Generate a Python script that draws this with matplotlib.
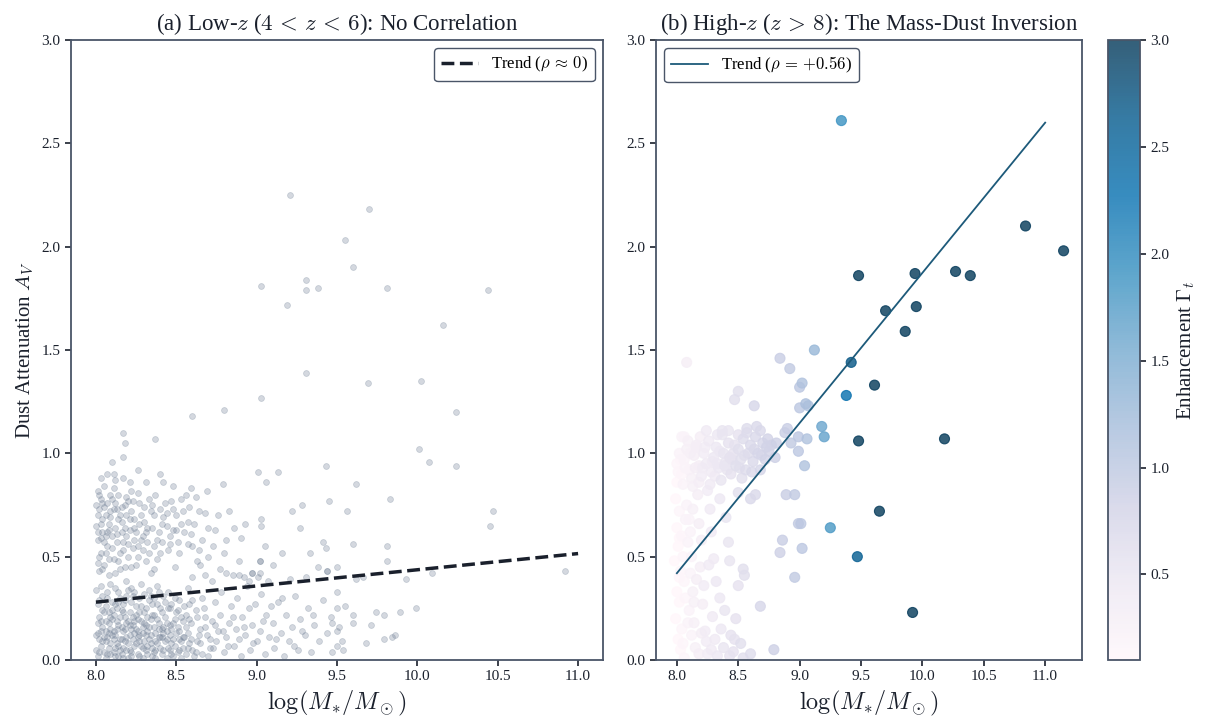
import matplotlib
matplotlib.use("Agg")
import matplotlib.pyplot as plt
import numpy as np

plt.rcParams['font.family'] = ['Liberation Serif', 'DejaVu Serif']
plt.rcParams['mathtext.fontset'] = 'cm'

# ---- panel (a): low-z sample, (log M*, A_V) ----
lowz_core = [
    (8.01, 0.02), (8.03, 0.07), (8.00, 0.12), (8.04, 0.16), (8.02, 0.21), (8.01, 0.27), (8.04, 0.31),
    (8.03, 0.36), (8.00, 0.05), (8.02, 0.10), (8.04, 0.24), (8.01, 0.18), (8.03, 0.14), (8.05, 0.04),
    (8.06, 0.01), (8.08, 0.06), (8.07, 0.11), (8.09, 0.15), (8.06, 0.19), (8.08, 0.23), (8.10, 0.28),
    (8.07, 0.33), (8.09, 0.03), (8.06, 0.09), (8.08, 0.13), (8.10, 0.20), (8.06, 0.26), (8.09, 0.37),
    (8.11, 0.04), (8.13, 0.08), (8.12, 0.12), (8.14, 0.17), (8.11, 0.22), (8.13, 0.25), (8.15, 0.30),
    (8.12, 0.35), (8.14, 0.02), (8.11, 0.14), (8.15, 0.10), (8.13, 0.19), (8.12, 0.06), (8.14, 0.28),
    (8.16, 0.03), (8.18, 0.09), (8.17, 0.14), (8.19, 0.18), (8.16, 0.24), (8.18, 0.29), (8.20, 0.34),
    (8.17, 0.06), (8.19, 0.11), (8.16, 0.16), (8.18, 0.21), (8.20, 0.01), (8.17, 0.27), (8.19, 0.38),
    (8.21, 0.05), (8.23, 0.10), (8.22, 0.15), (8.24, 0.19), (8.21, 0.23), (8.23, 0.31), (8.25, 0.08),
    (8.22, 0.02), (8.24, 0.13), (8.21, 0.17), (8.25, 0.26), (8.22, 0.35), (8.23, 0.21),
    (8.26, 0.03), (8.28, 0.07), (8.27, 0.12), (8.29, 0.16), (8.26, 0.20), (8.28, 0.26), (8.30, 0.32),
    (8.27, 0.09), (8.29, 0.01), (8.26, 0.14), (8.30, 0.18), (8.28, 0.37), (8.27, 0.23),
    (8.31, 0.05), (8.33, 0.10), (8.32, 0.14), (8.34, 0.20), (8.31, 0.25), (8.33, 0.29), (8.35, 0.02),
    (8.32, 0.07), (8.34, 0.12), (8.31, 0.17), (8.35, 0.22), (8.33, 0.34),
    (8.36, 0.04), (8.38, 0.08), (8.37, 0.13), (8.39, 0.18), (8.36, 0.22), (8.38, 0.27), (8.40, 0.11),
    (8.37, 0.01), (8.39, 0.15), (8.36, 0.30), (8.40, 0.06), (8.38, 0.36),
    (8.41, 0.03), (8.43, 0.09), (8.42, 0.13), (8.44, 0.18), (8.41, 0.23), (8.43, 0.28), (8.45, 0.06),
    (8.42, 0.16), (8.44, 0.01), (8.41, 0.11), (8.45, 0.33),
    (8.46, 0.05), (8.48, 0.10), (8.47, 0.15), (8.49, 0.20), (8.46, 0.25), (8.48, 0.02), (8.50, 0.13),
    (8.47, 0.08), (8.49, 0.30), (8.46, 0.17),
    (8.51, 0.04), (8.53, 0.09), (8.52, 0.14), (8.54, 0.19), (8.51, 0.24), (8.53, 0.01), (8.55, 0.11),
    (8.52, 0.29), (8.54, 0.06),
    (8.56, 0.03), (8.58, 0.08), (8.57, 0.13), (8.59, 0.18), (8.56, 0.22), (8.58, 0.27), (8.60, 0.05),
    (8.57, 0.35),
]
lowz_core2 = [
    (8.02, 0.04), (8.04, 0.09), (8.01, 0.13), (8.03, 0.19), (8.05, 0.23), (8.02, 0.29), (8.00, 0.34),
    (8.05, 0.11), (8.07, 0.03), (8.09, 0.08), (8.06, 0.14), (8.08, 0.18), (8.10, 0.24), (8.07, 0.30),
    (8.09, 0.21), (8.10, 0.12), (8.12, 0.02), (8.14, 0.07), (8.11, 0.10), (8.13, 0.15), (8.15, 0.21),
    (8.12, 0.27), (8.14, 0.33), (8.15, 0.05), (8.17, 0.01), (8.19, 0.05), (8.16, 0.10), (8.18, 0.15),
    (8.20, 0.19), (8.17, 0.23), (8.19, 0.31), (8.20, 0.08), (8.22, 0.04), (8.24, 0.07), (8.21, 0.12),
    (8.23, 0.17), (8.25, 0.22), (8.22, 0.28), (8.24, 0.33), (8.25, 0.15), (8.27, 0.02), (8.29, 0.06),
    (8.26, 0.11), (8.28, 0.19), (8.30, 0.23), (8.27, 0.30), (8.29, 0.13), (8.30, 0.09), (8.32, 0.03),
    (8.34, 0.08), (8.31, 0.12), (8.33, 0.16), (8.35, 0.27), (8.32, 0.21), (8.34, 0.31), (8.35, 0.06),
    (8.37, 0.05), (8.39, 0.11), (8.36, 0.16), (8.38, 0.20), (8.40, 0.25), (8.37, 0.09), (8.39, 0.33),
    (8.42, 0.05), (8.44, 0.10), (8.41, 0.15), (8.43, 0.21), (8.45, 0.25), (8.42, 0.31), (8.44, 0.14),
    (8.47, 0.03), (8.49, 0.07), (8.46, 0.12), (8.48, 0.18), (8.50, 0.23), (8.47, 0.27), (8.52, 0.05),
    (8.54, 0.11), (8.51, 0.16), (8.53, 0.21), (8.55, 0.26), (8.52, 0.10), (8.57, 0.06), (8.59, 0.10),
    (8.56, 0.16), (8.58, 0.20), (8.60, 0.29), (8.61, 0.02), (8.63, 0.09), (8.65, 0.15), (8.62, 0.24),
    (8.66, 0.03), (8.69, 0.12), (8.68, 0.21), (8.71, 0.06), (8.74, 0.17), (8.75, 0.09), (8.79, 0.14),
    (8.82, 0.07), (8.85, 0.21), (8.89, 0.10), (8.92, 0.16), (8.95, 0.25), (8.98, 0.08), (9.04, 0.19),
    (9.09, 0.26), (9.12, 0.10), (9.16, 0.30), (9.23, 0.07), (9.28, 0.14), (9.35, 0.22),
]
lowz_tail = [
    (8.62, 0.04), (8.64, 0.12), (8.63, 0.21), (8.66, 0.30), (8.65, 0.08), (8.68, 0.16), (8.67, 0.25),
    (8.70, 0.02), (8.71, 0.10), (8.72, 0.19), (8.74, 0.28), (8.73, 0.06), (8.76, 0.14), (8.77, 0.22),
    (8.78, 0.33), (8.80, 0.04), (8.81, 0.11), (8.83, 0.18), (8.84, 0.26), (8.86, 0.07), (8.87, 0.15),
    (8.88, 0.30), (8.90, 0.02), (8.91, 0.21), (8.93, 0.12), (8.94, 0.36), (8.96, 0.05), (8.97, 0.17),
    (8.99, 0.27), (9.00, 0.09), (9.02, 0.14), (9.03, 0.32), (9.05, 0.03), (9.06, 0.22), (9.08, 0.11),
    (9.10, 0.18), (9.11, 0.06), (9.13, 0.28), (9.15, 0.13), (9.17, 0.02), (9.18, 0.22), (9.20, 0.09),
    (9.22, 0.16), (9.24, 0.31), (9.26, 0.05), (9.27, 0.20), (9.30, 0.12), (9.32, 0.25), (9.34, 0.04),
    (9.36, 0.17), (9.39, 0.09), (9.41, 0.29), (9.44, 0.13), (9.46, 0.21), (9.02, 0.42), (9.07, 0.38),
    (8.92, 0.40), (9.21, 0.39), (9.31, 0.40), (9.01, 0.40), (8.97, 0.42), (9.44, 0.43), (9.02, 0.48),
]
lowz_upper = [
    (8.01, 0.82), (8.03, 0.78), (8.05, 0.84), (8.02, 0.73), (8.06, 0.70), (8.09, 0.80), (8.12, 0.76),
    (8.08, 0.66), (8.04, 0.62), (8.01, 0.58), (8.03, 0.52), (8.07, 0.55), (8.10, 0.60), (8.14, 0.68),
    (8.16, 0.74), (8.19, 0.79), (8.22, 0.72), (8.18, 0.64), (8.13, 0.57), (8.11, 0.49), (8.05, 0.46),
    (8.02, 0.43), (8.08, 0.41), (8.15, 0.44), (8.20, 0.50), (8.24, 0.58), (8.27, 0.66), (8.30, 0.74),
    (8.26, 0.81), (8.33, 0.78), (8.36, 0.70), (8.31, 0.62), (8.29, 0.53), (8.25, 0.46), (8.34, 0.42),
    (8.38, 0.49), (8.41, 0.57), (8.44, 0.65), (8.40, 0.73), (8.47, 0.77), (8.50, 0.70), (8.46, 0.60),
    (8.52, 0.52), (8.49, 0.45), (8.55, 0.62), (8.58, 0.74), (8.61, 0.66), (8.57, 0.56), (8.63, 0.48),
    (8.66, 0.58), (8.04, 0.68), (8.06, 0.60), (8.00, 0.65), (8.02, 0.50), (8.09, 0.72), (8.11, 0.83),
    (8.17, 0.57), (8.21, 0.63), (8.23, 0.77), (8.28, 0.70), (8.32, 0.57), (8.35, 0.64), (8.37, 0.80),
    (8.42, 0.69), (8.45, 0.53), (8.53, 0.66), (8.07, 0.76), (8.12, 0.64), (8.15, 0.52), (8.18, 0.45),
    (8.00, 0.75), (8.03, 0.59), (8.10, 0.54), (8.14, 0.80), (8.19, 0.70), (8.24, 0.68), (8.26, 0.55),
    (8.31, 0.48), (8.36, 0.55), (8.39, 0.62), (8.43, 0.76), (8.48, 0.63), (8.54, 0.72), (8.59, 0.61),
    (8.62, 0.79), (8.68, 0.71), (8.70, 0.64), (8.73, 0.55), (8.01, 0.70), (8.05, 0.74), (8.08, 0.63),
    (8.13, 0.73), (8.16, 0.62), (8.20, 0.56), (8.22, 0.82), (8.29, 0.60), (8.34, 0.72), (8.40, 0.52),
    (8.51, 0.57), (8.56, 0.80),
    (8.02, 0.80), (8.04, 0.76), (8.01, 0.62), (8.03, 0.66), (8.06, 0.52), (8.05, 0.57), (8.08, 0.49),
    (8.09, 0.69), (8.11, 0.73), (8.13, 0.61), (8.10, 0.78), (8.15, 0.70), (8.14, 0.48), (8.17, 0.53),
    (8.19, 0.60), (8.18, 0.75), (8.21, 0.68), (8.23, 0.54), (8.22, 0.45), (8.25, 0.62), (8.27, 0.76),
    (8.26, 0.50), (8.30, 0.67), (8.28, 0.58), (8.32, 0.64), (8.33, 0.52), (8.35, 0.75), (8.38, 0.58),
    (8.41, 0.66), (8.44, 0.71), (8.46, 0.56), (8.50, 0.63), (8.53, 0.78), (8.57, 0.67), (8.60, 0.55),
    (8.64, 0.72), (8.01, 0.47), (8.04, 0.44), (8.07, 0.62), (8.12, 0.42), (8.16, 0.67), (8.20, 0.77),
    (8.24, 0.64), (8.36, 0.44), (8.48, 0.73),
    (8.17, 1.10), (8.18, 1.05), (8.37, 1.07), (8.10, 0.96), (8.17, 0.98), (8.07, 0.90), (8.11, 0.90),
    (8.12, 0.87), (8.17, 0.88), (8.21, 0.86), (8.40, 0.90), (8.42, 0.86), (8.79, 0.85), (8.59, 0.83),
    (8.69, 0.82), (8.60, 1.18), (8.80, 1.21), (8.03, 0.88), (8.26, 0.92), (8.31, 0.86), (8.48, 0.84),
    (8.83, 0.72), (8.90, 0.59), (8.80, 0.52), (8.81, 0.58), (8.89, 0.48), (8.81, 0.42), (8.85, 0.41),
    (8.89, 0.41), (8.65, 0.46), (8.70, 0.50), (8.74, 0.63), (8.77, 0.44), (8.72, 0.38), (8.68, 0.41),
    (8.93, 0.66), (8.86, 0.64), (8.76, 0.70), (8.64, 0.53), (8.95, 0.38), (8.60, 0.40),
]
lowz_sparse = [
    (9.21, 2.25), (9.70, 2.18), (9.55, 2.03), (9.60, 1.90), (9.31, 1.84), (9.03, 1.81), (9.31, 1.79),
    (9.38, 1.80), (9.81, 1.80), (10.44, 1.79), (9.19, 1.72), (10.16, 1.62), (9.31, 1.39), (9.69, 1.34),
    (10.02, 1.35), (9.03, 1.27), (10.24, 1.20), (10.01, 1.02), (10.07, 0.96), (10.24, 0.94),
    (9.62, 0.85), (9.83, 0.78), (9.56, 0.72), (10.47, 0.72), (10.45, 0.65), (9.60, 0.56), (9.81, 0.55),
    (9.81, 0.48), (9.50, 0.45), (10.09, 0.42), (10.92, 0.43), (9.62, 0.39), (9.93, 0.39), (9.66, 0.40),
    (9.99, 0.25), (9.89, 0.23), (9.74, 0.23), (9.79, 0.22), (9.60, 0.22), (9.55, 0.26), (9.50, 0.25),
    (9.50, 0.33), (9.71, 0.17), (9.60, 0.18), (9.51, 0.16), (9.50, 0.14), (9.86, 0.12), (9.84, 0.11),
    (9.79, 0.10), (9.68, 0.08), (9.53, 0.09), (9.54, 0.05), (9.50, 0.07), (9.47, 0.04), (9.47, 0.18),
    (9.43, 0.94), (9.45, 0.77), (9.28, 0.75), (9.22, 0.72), (9.27, 0.64), (9.01, 0.91), (9.13, 0.91),
    (9.06, 0.86), (9.03, 0.68), (9.03, 0.65), (9.33, 0.52), (9.41, 0.57), (9.43, 0.54), (9.16, 0.52),
    (9.05, 0.55), (9.10, 0.46), (9.38, 0.45), (9.02, 0.48), (8.97, 0.42), (9.44, 0.43),
]
lowz_trend_x = [8.0, 11.0]
lowz_trend_y = [0.28, 0.515]

# ---- panel (b): high-z sample, (log M*, A_V, Gamma_t) ----
hiz_massive = [
    (10.84, 2.10, 3.0), (11.15, 1.98, 3.0), (9.48, 1.86, 3.0), (9.94, 1.87, 3.0), (10.27, 1.88, 3.0),
    (10.39, 1.86, 3.0), (9.70, 1.69, 3.0), (9.95, 1.71, 3.0), (9.86, 1.59, 3.0), (9.61, 1.33, 3.0),
    (9.48, 1.06, 3.0), (10.18, 1.07, 3.0), (9.65, 0.72, 3.0), (9.92, 0.23, 3.0),
    (9.42, 1.44, 2.7), (9.47, 0.50, 2.6), (9.38, 1.28, 2.3), (9.34, 2.61, 1.9), (9.25, 0.64, 1.8),
    (9.18, 1.13, 1.6), (9.20, 1.08, 1.65), (9.12, 1.50, 1.3),
]
hiz_mid = [
    (9.04, 0.94, 1.1), (9.06, 1.07, 1.1), (9.05, 1.24, 1.15), (9.02, 1.34, 1.1), (9.01, 0.66, 1.0),
    (9.02, 0.54, 1.0), (8.84, 1.46, 0.9), (8.92, 1.41, 0.95), (9.00, 1.32, 1.0), (8.50, 1.30, 0.6),
    (8.47, 1.26, 0.6), (9.07, 1.23, 1.1), (9.00, 1.22, 1.0), (8.63, 1.23, 0.75), (8.90, 1.12, 0.9),
    (8.88, 1.10, 0.9), (8.93, 1.05, 0.95), (8.99, 1.08, 1.0), (8.99, 1.01, 1.0), (8.81, 1.05, 0.85),
    (8.77, 1.04, 0.8), (8.73, 1.03, 0.8), (8.80, 0.98, 0.85), (8.89, 0.80, 0.9), (8.96, 0.80, 0.95),
    (8.60, 0.78, 0.7), (8.64, 0.80, 0.7), (8.50, 0.81, 0.6), (8.99, 0.66, 0.95), (8.86, 0.58, 0.9),
    (8.84, 0.52, 0.85), (8.96, 0.40, 0.95), (8.68, 0.26, 0.75), (8.79, 0.05, 0.85), (8.60, 0.03, 0.65),
    (8.43, 0.48, 0.5), (8.54, 0.44, 0.6), (8.55, 0.41, 0.6), (8.50, 0.36, 0.55), (8.08, 1.44, 0.3),
    (8.04, 1.08, 0.2), (8.24, 1.11, 0.4), (8.33, 1.09, 0.45), (8.37, 1.11, 0.5), (8.42, 1.11, 0.5),
    (8.50, 1.09, 0.55), (8.57, 1.10, 0.65), (8.65, 1.13, 0.7), (8.68, 1.11, 0.7), (8.16, 1.03, 0.3),
]
hiz_low = [
    (8.00, 0.95, 0.15), (8.02, 1.00, 0.2), (8.04, 0.90, 0.15), (8.06, 0.97, 0.2), (8.08, 1.02, 0.25),
    (8.10, 0.92, 0.2), (8.12, 0.88, 0.25), (8.14, 0.99, 0.3), (8.16, 1.04, 0.3), (8.18, 0.94, 0.3),
    (8.20, 0.89, 0.35), (8.22, 1.00, 0.35), (8.24, 0.95, 0.4), (8.26, 1.06, 0.4), (8.28, 0.91, 0.4),
    (8.30, 0.98, 0.45), (8.32, 1.03, 0.45), (8.34, 0.93, 0.45), (8.36, 0.87, 0.5), (8.38, 1.00, 0.5),
    (8.40, 0.96, 0.5), (8.42, 1.05, 0.55), (8.44, 0.90, 0.55), (8.46, 1.00, 0.55), (8.48, 0.94, 0.6),
    (8.50, 1.02, 0.6), (8.52, 0.97, 0.6), (8.54, 1.07, 0.65), (8.56, 0.92, 0.65), (8.58, 1.00, 0.65),
    (8.60, 1.04, 0.7), (8.62, 0.96, 0.7), (8.64, 1.08, 0.7), (8.66, 1.00, 0.75), (8.70, 1.05, 0.75),
    (8.72, 0.97, 0.8), (8.05, 0.85, 0.2), (8.13, 0.84, 0.25), (8.19, 1.08, 0.3), (8.27, 0.85, 0.4),
    (8.33, 0.95, 0.45), (8.45, 0.97, 0.55), (8.53, 0.88, 0.6), (8.68, 0.92, 0.75), (8.75, 1.01, 0.8),
    (8.09, 1.06, 0.25), (8.21, 0.93, 0.35), (8.37, 1.09, 0.5), (8.43, 0.98, 0.55), (8.57, 1.12, 0.65),
    (8.01, 0.91, 0.15), (8.03, 0.97, 0.15), (8.07, 0.93, 0.2), (8.11, 1.00, 0.25), (8.15, 0.93, 0.3),
    (8.23, 1.03, 0.35), (8.29, 0.96, 0.4), (8.35, 1.01, 0.45), (8.41, 0.92, 0.5), (8.47, 1.04, 0.55),
    (8.55, 0.99, 0.6), (8.61, 0.91, 0.7), (8.06, 1.08, 0.2), (8.18, 0.86, 0.3), (8.31, 0.89, 0.4),
    (8.39, 0.94, 0.5), (8.51, 0.93, 0.6), (8.63, 1.02, 0.7), (8.69, 0.99, 0.75), (8.74, 1.07, 0.8),
    (7.99, 0.78, 0.1), (8.02, 0.72, 0.15), (8.00, 0.64, 0.1), (8.04, 0.60, 0.15), (8.01, 0.55, 0.1),
    (7.98, 0.48, 0.1), (8.03, 0.43, 0.15), (8.06, 0.38, 0.15), (8.00, 0.33, 0.1), (8.02, 0.28, 0.1),
    (7.99, 0.20, 0.1), (8.04, 0.15, 0.15), (8.01, 0.10, 0.1), (8.03, 0.05, 0.1), (8.06, 0.01, 0.15),
    (8.08, 0.75, 0.2), (8.10, 0.68, 0.2), (8.09, 0.57, 0.2), (8.12, 0.50, 0.2), (8.11, 0.42, 0.2),
    (8.13, 0.33, 0.25), (8.10, 0.24, 0.2), (8.14, 0.18, 0.25), (8.12, 0.12, 0.2), (8.15, 0.06, 0.25),
    (8.17, 0.80, 0.3), (8.18, 0.66, 0.3), (8.20, 0.58, 0.3), (8.19, 0.45, 0.3), (8.22, 0.36, 0.35),
    (8.21, 0.27, 0.3), (8.23, 0.14, 0.35), (8.25, 0.03, 0.35), (8.24, 0.09, 0.35), (8.27, 0.73, 0.4),
    (8.28, 0.62, 0.4), (8.30, 0.49, 0.4), (8.29, 0.21, 0.4), (8.31, 0.10, 0.4), (8.33, 0.02, 0.45),
    (8.35, 0.30, 0.45), (8.36, 0.15, 0.45), (8.38, 0.06, 0.5), (8.40, 0.69, 0.5), (8.42, 0.57, 0.5),
    (8.44, 0.12, 0.55), (8.46, 0.04, 0.55), (8.48, 0.20, 0.55), (8.52, 0.08, 0.6), (8.54, 0.01, 0.6),
    (8.25, 0.82, 0.35), (8.35, 0.78, 0.45),
    (8.00, 0.86, 0.1), (8.02, 0.59, 0.1), (8.05, 0.50, 0.15), (8.07, 0.30, 0.15), (8.02, 0.40, 0.1),
    (8.09, 0.18, 0.2), (8.05, 0.08, 0.15), (8.14, 0.28, 0.25), (8.16, 0.39, 0.3), (8.11, 0.62, 0.2),
    (8.20, 0.13, 0.3), (8.26, 0.46, 0.4), (8.32, 0.38, 0.45), (8.18, 0.03, 0.3), (8.39, 0.24, 0.5),
    (8.47, 0.10, 0.55), (8.28, 0.05, 0.4), (8.43, 0.02, 0.55), (8.07, 0.68, 0.2), (8.13, 0.73, 0.25),
]
hiz_trend_x = [8.0, 11.0]
hiz_trend_y = [0.42, 2.60]

spine_col = '#4a5568'
text_col = '#1a202c'

fig = plt.figure(figsize=(12.07, 7.18), dpi=100)
ax1 = fig.add_axes([71 / 1207, 58 / 718, 532 / 1207, 620 / 718])
ax2 = fig.add_axes([656 / 1207, 58 / 718, 426 / 1207, 620 / 718])
cax = fig.add_axes([1108 / 1207, 58 / 718, 32 / 1207, 620 / 718])

# panel (a)
lowz = np.array(lowz_core + lowz_core2 + lowz_tail + lowz_upper + lowz_sparse)
ax1.scatter(lowz[:, 0], lowz[:, 1], s=18, color='#718096', alpha=0.3, linewidths=0.6, zorder=2)
ax1.plot(lowz_trend_x, lowz_trend_y, ls='--', color=text_col, lw=2.5,
         label=r'Trend ($\rho\,\approx\,0$)', zorder=3)
ax1.set_xlim(7.845, 11.155)
ax1.set_ylim(0, 3.0)
ax1.set_title(r'(a) Low-$z$ ($4\,<\,z\,<\,6$): No Correlation', fontsize=16.5, color=text_col, pad=7)
ax1.set_xlabel(r'$\log(M_{*}/M_\odot)$', fontsize=17.5, color=text_col)
ax1.set_ylabel(r'Dust Attenuation $A_V$', fontsize=15, color=text_col)
ax1.legend(loc='upper right', fontsize=12, frameon=True, fancybox=True, framealpha=1,
           edgecolor=spine_col, handlelength=2.2)

# panel (b)
hiz = np.array(hiz_low + hiz_mid + hiz_massive)
order = np.argsort(hiz[:, 2], kind='stable')
hiz = hiz[order]
sc = ax2.scatter(hiz[:, 0], hiz[:, 1], c=hiz[:, 2], cmap='PuBu', vmin=0.1, vmax=3.0,
                 s=52, alpha=0.8, linewidths=0.8, zorder=2)
ax2.plot(hiz_trend_x, hiz_trend_y, color='#1d5a7a', lw=1.3,
         label=r'Trend ($\rho\,=\,{+}0.56$)', zorder=3)
ax2.set_xlim(7.83, 11.30)
ax2.set_ylim(0, 3.0)
ax2.set_title(r'(b) High-$z$ ($z\,>\,8$): The Mass-Dust Inversion', fontsize=16.5, color=text_col, pad=7)
ax2.set_xlabel(r'$\log(M_{*}/M_\odot)$', fontsize=17.5, color=text_col)
ax2.legend(loc='upper left', fontsize=12, frameon=True, fancybox=True, framealpha=1,
           edgecolor=spine_col, handlelength=2.2)

cb = fig.colorbar(sc, cax=cax)
cb.set_label(r'Enhancement $\Gamma_t$', fontsize=15, color=text_col)
cb.outline.set_edgecolor(spine_col)
cb.outline.set_linewidth(1.3)
cb.set_ticks([0.5, 1.0, 1.5, 2.0, 2.5, 3.0])
cb.ax.tick_params(labelsize=11, colors=text_col, length=4, width=1.2)

for ax in (ax1, ax2):
    ax.set_xticks([8.0, 8.5, 9.0, 9.5, 10.0, 10.5, 11.0])
    ax.set_yticks([0.0, 0.5, 1.0, 1.5, 2.0, 2.5, 3.0])
    ax.tick_params(labelsize=11, colors=text_col, length=4, width=1.2)
    for sp in ax.spines.values():
        sp.set_color(spine_col)
        sp.set_linewidth(1.3)

fig.savefig('out.png', dpi=100)
